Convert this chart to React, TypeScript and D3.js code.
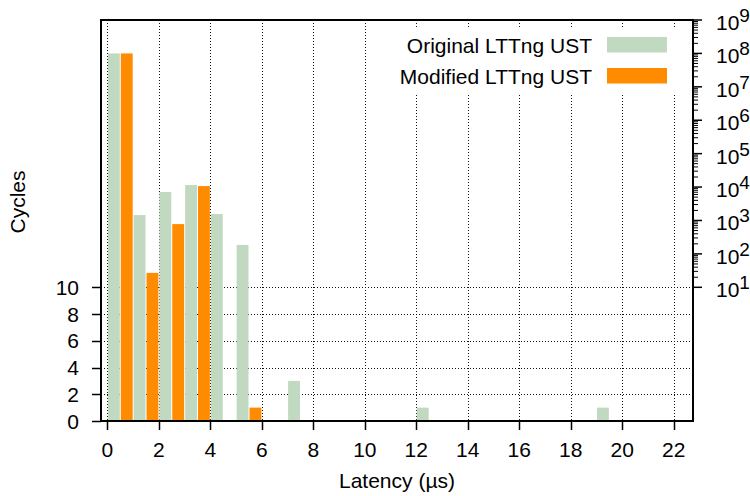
import React from "react";
import * as d3 from "d3";

const latencyBins = d3.range(0, 23);
const originalCycles = [1e8, 1450, 7100, 11500, 1560, 185, 0, 3, 0, 0, 0, 0, 1, 0, 0, 0, 0, 0, 0, 1, 0, 0, 0];
const modifiedCycles = [1e8, 27, 780, 10700, 0, 1, 0, 0, 0, 0, 0, 0, 0, 0, 0, 0, 0, 0, 0, 0, 0, 0, 0];
const xTicks = [0, 2, 4, 6, 8, 10, 12, 14, 16, 18, 20, 22];
const linTicks = [0, 2, 4, 6, 8, 10];
const logExps = [1, 2, 3, 4, 5, 6, 7, 8, 9];
const seriesNames = ["Original LTTng UST", "Modified LTTng UST"];
const seriesColors = ["#c1d9c1", "#ff8c00"];

const W = 750, H = 496;
const L = 101, R = 693, T = 20, B = 421;
const FONT = "'Liberation Sans', Arial, Helvetica, sans-serif";
const FS = 21;

export default function App() {
  const x = d3.scaleLinear().domain([-0.25, 22.75]).range([L, R]);
  const yLin = d3.scaleLinear().domain([0, 10]).range([B, 287.3]);
  const yLog = d3.scaleLog().domain([10, 1e9]).range([287.3, T]);
  const y = (v: number) => (v <= 10 ? yLin(v) : yLog(v));

  const minorLog: number[] = [];
  for (let e = 1; e < 9; e++) for (let m = 2; m <= 9; m++) minorLog.push(m * Math.pow(10, e));

  const bars: React.ReactNode[] = [];
  [originalCycles, modifiedCycles].forEach((vals, si) => {
    vals.forEach((v, i) => {
      if (v <= 0) return;
      const x0 = x(latencyBins[i] + si * 0.5) + 0.5;
      const x1 = x(latencyBins[i] + si * 0.5 + 0.5) - 0.5;
      bars.push(
        <rect key={`b${si}-${i}`} x={x0} y={y(v)} width={x1 - x0} height={B - y(v)} fill={seriesColors[si]} />
      );
    });
  });

  return (
    <svg width={W} height={H} style={{ position: "absolute", left: 0, top: 0, background: "#fff" }} fontFamily={FONT}>
      <rect x={0} y={0} width={W} height={H} fill="#fff" />
      {/* grid */}
      <g stroke="#111" strokeWidth={1} strokeDasharray="1,2">
        {xTicks.map((t) => (
          <line key={`gx${t}`} x1={Math.round(x(t)) + 0.5} x2={Math.round(x(t)) + 0.5} y1={T} y2={B} />
        ))}
        {linTicks.filter((t) => t > 0).map((t) => (
          <line key={`gy${t}`} x1={L} x2={R} y1={Math.round(yLin(t)) + 0.5} y2={Math.round(yLin(t)) + 0.5} />
        ))}
      </g>
      {/* legend background */}
      <rect x={395} y={28} width={285} height={65} fill="#fff" />
      {bars}
      {/* legend */}
      {seriesNames.map((n, i) => (
        <g key={`lg${i}`}>
          <text x={592} y={52.5 + i * 31} fontSize={FS} textAnchor="end" fill="#000">{n}</text>
          <rect x={607} y={37 + i * 31} width={60} height={15.5} fill={seriesColors[i]} />
        </g>
      ))}
      {/* frame */}
      <rect x={L} y={T} width={R - L} height={B - T} fill="none" stroke="#000" strokeWidth={2} />
      {/* x ticks */}
      {xTicks.map((t) => (
        <g key={`xt${t}`}>
          <line x1={Math.round(x(t)) + 0.5} x2={Math.round(x(t)) + 0.5} y1={B} y2={B + 9} stroke="#000" strokeWidth={1.5} />
          <text x={x(t)} y={457} fontSize={FS} textAnchor="middle">{t}</text>
        </g>
      ))}
      {/* left ticks */}
      {linTicks.map((t) => (
        <g key={`yt${t}`}>
          <line x1={L - 9} x2={L} y1={Math.round(yLin(t)) + 0.5} y2={Math.round(yLin(t)) + 0.5} stroke="#000" strokeWidth={1.5} />
          <text x={79} y={yLin(t) + 7.5} fontSize={FS} textAnchor="end">{t}</text>
        </g>
      ))}
      {/* right log ticks */}
      {minorLog.map((v) => (
        <line key={`mn${v}`} x1={R} x2={R + 5} y1={yLog(v)} y2={yLog(v)} stroke="#000" strokeWidth={1} />
      ))}
      {logExps.map((e) => {
        const yy = yLog(Math.pow(10, e));
        return (
          <g key={`lt${e}`}>
            <line x1={R} x2={R + 9} y1={yy} y2={yy} stroke="#000" strokeWidth={1.5} />
            <text x={716} y={yy + 10} fontSize={FS}>
              10<tspan dy={-8} fontSize={19}>{e}</tspan>
            </text>
          </g>
        );
      })}
      {/* axis titles */}
      <text x={(L + R) / 2} y={488} fontSize={FS} textAnchor="middle">Latency (µs)</text>
      <text transform={`translate(25,202) rotate(-90)`} fontSize={FS} textAnchor="middle">Cycles</text>
    </svg>
  );
}
